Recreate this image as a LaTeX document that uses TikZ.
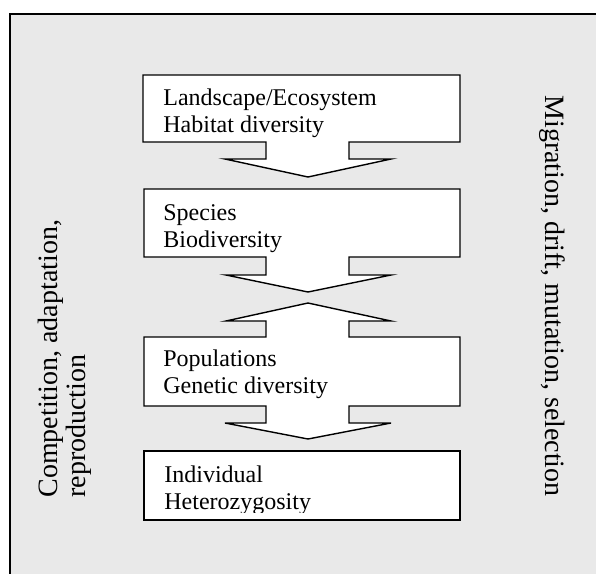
\documentclass[tikz,border=0pt]{standalone}
\usepackage{fontspec}
\setmainfont{Liberation Serif}
\definecolor{panelgray}{HTML}{E9E9E9}
\tikzset{
  levelbox/.style={draw=black,fill=white,line width=0.7pt},
  leveltext/.style={anchor=base west,inner sep=0pt,align=left,font=\fontsize{12}{13.5}\selectfont},
  sidetext/.style={anchor=base west,inner sep=0pt,align=left,font=\fontsize{14}{14}\selectfont}
}
\begin{document}
\begin{tikzpicture}[x=0.5pt,y=-0.5pt,line join=miter]
\useasboundingbox (0,0) rectangle (596,574);
\fill[panelgray] (10,14) rectangle (600,580);
\draw[line width=0.8pt] (10,580) -- (10,14) -- (600,14);
% landscape level
\draw[levelbox] (143,75) -- (460,75) -- (460,142) -- (349,142) -- (349,159) -- (391,159) -- (308,177)
  -- (225,159) -- (266,159) -- (266,142) -- (143,142) -- cycle;
\node[leveltext] (landscape) at (163,132) {Landscape/Ecosystem\\Habitat diversity};
% species level
\draw[levelbox] (144,189) -- (460,189) -- (460,257) -- (349,257) -- (349,275) -- (391,275) -- (308,292)
  -- (226,275) -- (266,275) -- (266,257) -- (144,257) -- cycle;
\node[leveltext] (species) at (163,247) {Species\\Biodiversity};
% population level
\draw[levelbox] (144,337) -- (266,337) -- (266,321) -- (226,321) -- (308,303) -- (391,321) -- (349,321)
  -- (349,337) -- (460,337) -- (460,406) -- (349,406) -- (349,423) -- (391,423) -- (308,439)
  -- (225,423) -- (266,423) -- (266,406) -- (144,406) -- cycle;
\node[leveltext] (populations) at (163,393) {Populations\\Genetic diversity};
% individual level
\draw[levelbox] (144,451) rectangle (460,520);
\begin{scope}
\clip (144,451) rectangle (460,512);
\node[leveltext] (individual) at (164,509) {Individual\\Heterozygosity};
\end{scope}
% processes
\node[sidetext,rotate=90] (left) at (85,498) {Competition, adaptation,\\reproduction};
\node[sidetext,rotate=-90] (right) at (545,95) {Migration, drift, mutation, selection};
\end{tikzpicture}
\end{document}
